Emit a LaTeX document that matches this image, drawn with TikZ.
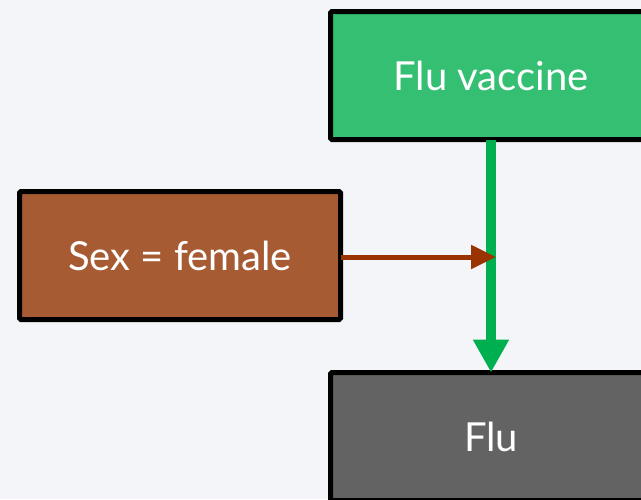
\documentclass[tikz,border=0pt]{standalone}
\usepackage{fontspec}
\setmainfont{Lato}
\usetikzlibrary{arrows.meta}
\definecolor{bgpale}{HTML}{F4F5F8}
\definecolor{vaccinegreen}{HTML}{35BF73}
\definecolor{sexbrown}{HTML}{A65B33}
\definecolor{flugray}{HTML}{636363}
\definecolor{arrowgreen}{HTML}{00B050}
\definecolor{arrowbrown}{HTML}{993300}
\tikzset{
  varbox/.style={draw=black, line width=5pt, rounded corners=1.5pt,
    outer sep=0pt, text=white, font=\fontsize{40}{48}\selectfont,
    inner sep=0pt, anchor=north west,
    minimum width=321pt, minimum height=128pt},
}
\begin{document}
\begin{tikzpicture}[x=1pt, y=-1pt]
  \useasboundingbox (0,0) rectangle (641,499);
  \clip (0,0) rectangle (641,499);
  \fill[bgpale] (0,0) rectangle (641,499);

  % variables
  \node[varbox, fill=vaccinegreen] (vac) at (330.5,11.5) {Flu vaccine};
  \node[varbox, fill=sexbrown]     (sex) at (19.5,191.5) {Sex = female};
  \node[varbox, fill=flugray]      (flu) at (330.5,372.5) {Flu};

  % effect of the vaccine on flu
  \draw[arrowgreen, line width=10pt,
        -{Triangle[length=33pt, width=34pt]}]
    (vac.south) -- (flu.north);

  % sex modifies the vaccine effect
  \coordinate (mod) at (496,257);
  \draw[arrowbrown, line width=5pt,
        -{Triangle[length=25pt, width=23pt]}]
    (sex.east |- mod) -- (mod);
\end{tikzpicture}
\end{document}
